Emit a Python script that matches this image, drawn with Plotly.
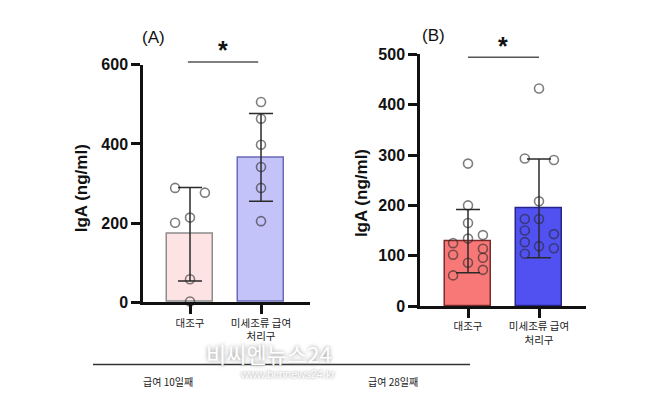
import plotly.graph_objects as go

# ---------------- data ----------------
categories = ["대조구", "미세조류 급여<br>처리구"]

# Panel A (급여 10일째)
a_means = [172, 366]
a_sd = [118, 111]
a_ctrl_pts = [289, 277, 214, 201, 58, 2]
a_trt_pts = [506, 464, 398, 342, 289, 205]
a_ticks = [0, 200, 400, 600]

# Panel B (급여 28일째)
b_means = [129, 194]
b_sd = [63, 98]
b_ctrl_pts = [283, 200, 165, 134, 141, 125, 114, 102, 96, 86, 72, 61]
b_trt_pts = [432, 293, 290, 208, 173, 173, 150, 143, 127, 119, 115, 104]
b_ticks = [0, 100, 200, 300, 400, 500]

# horizontal jitter of the scatter dots (layout only)
a_ctrl_jit = [-0.21, 0.21, 0, -0.21, 0, 0]
a_trt_jit = [0, 0, 0, 0, 0, 0]
b_ctrl_jit = [0, 0, 0, 0, 0.21, -0.21, 0.21, -0.21, 0.21, 0, 0.21, -0.21]
b_trt_jit = [0, -0.2, 0.21, 0, -0.2, 0, -0.2, 0.21, -0.2, 0, 0.21, -0.2]

FONT = "Arial, Liberation Sans, sans-serif"
KFONT = "Noto Sans CJK KR, sans-serif"
W, H = 650, 399

fig = go.Figure()

def px_x(p):
    return p / W

def px_y(p):
    return 1 - p / H

panels = [
    dict(xa="x", ya="y", means=a_means, sd=a_sd,
         pts=[a_ctrl_pts, a_trt_pts], jit=[a_ctrl_jit, a_trt_jit],
         fills=["#fde3e3", "#c3c3f9"], edges=["#8c8c8c", "#6a6ab8"],
         bw=0.66),
    dict(xa="x2", ya="y2", means=b_means, sd=b_sd,
         pts=[b_ctrl_pts, b_trt_pts], jit=[b_ctrl_jit, b_trt_jit],
         fills=["#f87878", "#5151f2"], edges=["#7a2a2a", "#26268a"],
         bw=0.65),
]

for p in panels:
    for i in range(2):
        fig.add_trace(go.Bar(
            x=[i], y=[p["means"][i]], width=p["bw"],
            marker=dict(color=p["fills"][i], line=dict(color=p["edges"][i], width=1.5)),
            error_y=dict(type="data", array=[p["sd"][i]], visible=True,
                         color="#2a2a2a", thickness=1.5, width=12),
            xaxis=p["xa"], yaxis=p["ya"], showlegend=False,
        ))
        xs = [i + j for j in p["jit"][i]]
        fig.add_trace(go.Scatter(
            x=xs, y=p["pts"][i], mode="markers",
            marker=dict(symbol="circle-open", size=9,
                        line=dict(color="rgba(40,40,40,0.6)", width=1.6),
                        color="rgba(40,40,40,0.6)"),
            xaxis=p["xa"], yaxis=p["ya"], showlegend=False, cliponaxis=False,
        ))

xaxis_common = dict(
    tickvals=[0, 1], ticktext=categories, showline=True, linecolor="#111",
    linewidth=2.5, ticks="outside", ticklen=9, tickwidth=2.5, tickcolor="#111",
    tickfont=dict(family=KFONT, size=10.5, color="#222"), showgrid=False,
    zeroline=False, fixedrange=True,
)
yaxis_common = dict(
    showline=True, linecolor="#111", linewidth=2.5, ticks="outside",
    ticklen=9, tickwidth=2.5, tickcolor="#111",
    tickfont=dict(family=FONT, size=16, color="#111", weight="bold"),
    showgrid=False, zeroline=False,
)

fig.update_layout(
    width=W, height=H, margin=dict(l=0, r=0, t=0, b=0),
    paper_bgcolor="white", plot_bgcolor="white", bargap=0,
    xaxis=dict(domain=[px_x(135), px_x(302)], range=[-0.662, 1.69],
               anchor="y", **xaxis_common),
    yaxis=dict(domain=[px_y(299), px_y(51)], range=[0, 600], tickvals=a_ticks,
               anchor="x", **yaxis_common),
    xaxis2=dict(domain=[px_x(412), px_x(578)], range=[-0.676, 1.662],
                anchor="y2", **xaxis_common),
    yaxis2=dict(domain=[px_y(303), px_y(40)], range=[0, 500], tickvals=b_ticks,
                anchor="x2", **yaxis_common),
)

shapes = []
ann = []

def note(xref, x, y, text, font, **kw):
    d = dict(xref=xref, yref="paper", x=x, y=px_y(y), text=text, showarrow=False,
             xanchor="center", yanchor="middle", font=font)
    d.update(kw)
    ann.append(d)

# significance bars
shapes.append(dict(type="line", xref="x", yref="paper", x0=-0.03, x1=0.96,
                   y0=px_y(48), y1=px_y(48), line=dict(color="#555", width=1.5)))
shapes.append(dict(type="line", xref="x2", yref="paper", x0=0.0, x1=1.0,
                   y0=px_y(43), y1=px_y(43), line=dict(color="#555", width=1.5)))
note("x", 0.47, 36, "<b>*</b>", dict(family=FONT, size=25, color="#111"))
note("x2", 0.49, 31, "<b>*</b>", dict(family=FONT, size=25, color="#111"))
# panel labels
note("paper", px_x(145), 22, "(A)", dict(family=FONT, size=17, color="#111"))
note("paper", px_x(425), 20, "(B)", dict(family=FONT, size=17, color="#111"))
# y titles
note("paper", px_x(73), 180, "<b>IgA (ng/ml)</b>", dict(family=FONT, size=17, color="#111"),
     textangle=-90)
note("paper", px_x(353), 185, "<b>IgA (ng/ml)</b>", dict(family=FONT, size=17, color="#111"),
     textangle=-90)
# bottom group line and labels
shapes.append(dict(type="line", xref="paper", yref="paper", x0=px_x(85), x1=px_x(462),
                   y0=px_y(364), y1=px_y(364), line=dict(color="#333", width=1.5)))
note("paper", px_x(160), 382, "급여 10일째", dict(family=KFONT, size=10, color="#222"))
note("paper", px_x(385), 382, "급여 28일째", dict(family=KFONT, size=10, color="#222"))
# watermark
note("paper", px_x(261), 352, "비씨엔뉴스24",
     dict(family=KFONT, size=22, color="white", shadow="0px 0px 4px #888"))
note("paper", px_x(279), 374, "www.bcnnews24.kr",
     dict(family="Liberation Sans Narrow, Arial, sans-serif", size=11,
          color="white", shadow="0px 0px 3px #888"))

fig.update_layout(shapes=shapes, annotations=ann)
fig.write_html("out.html")
